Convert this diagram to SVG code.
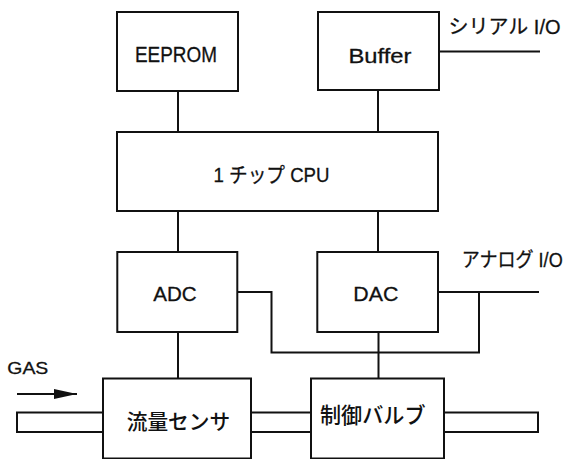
<svg xmlns="http://www.w3.org/2000/svg" width="579" height="459" viewBox="0 0 579 459">
<defs>
<style>
.box{fill:#fff;stroke:#111;stroke-width:2}
.ln{fill:none;stroke:#111;stroke-width:2}
.t{font-family:"Liberation Sans","Noto Sans CJK JP",Arial,sans-serif;fill:#111;stroke:#111;stroke-width:0.3}
.j{font-family:"Noto Sans CJK JP","Liberation Sans",sans-serif;fill:#111;font-weight:500}
</style>
<marker id="ah" viewBox="0 0 10 10" refX="10" refY="5" markerWidth="23" markerHeight="10" markerUnits="userSpaceOnUse" orient="auto" preserveAspectRatio="none">
<path d="M0,0 L10,5 L0,10 Z" fill="#111"/>
</marker>
</defs>
<rect width="579" height="459" fill="#fff"/>
<g id="connectors">
<path class="ln" d="M178,91 V132"/>
<path class="ln" d="M378,90 V132"/>
<path class="ln" d="M178,211 V252"/>
<path class="ln" d="M378,211 V252"/>
<path class="ln" d="M439,51.5 H540"/>
<path class="ln" d="M438,292 H539"/>
<path class="ln" d="M237,292 H271.5 V352.5 H479 V292"/>
<path class="ln" d="M178,332 V378.5"/>
<path class="ln" d="M378.5,332 V378.5"/>
<path class="ln" d="M17,394 H77" marker-end="url(#ah)"/>
</g>
<g id="pipes">
<rect class="box" x="17" y="412.5" width="86" height="19.5"/>
<path class="ln" d="M251,412.5 H311 M251,432 H311"/>
<rect class="box" x="444" y="412.5" width="94" height="19.5"/>
</g>
<g id="eeprom">
<rect class="box" x="117" y="12" width="121" height="79"/>
<text class="t" x="135" y="61.5" font-size="21.5" textLength="82" lengthAdjust="spacingAndGlyphs">EEPROM</text>
</g>
<g id="buffer">
<rect class="box" x="318" y="12" width="121" height="78"/>
<text class="t" x="348.5" y="63.3" font-size="21" textLength="63" lengthAdjust="spacingAndGlyphs">Buffer</text>
</g>
<g id="serial-label">
<text class="t" x="448.5" y="33.5" font-size="20" textLength="112" lengthAdjust="spacingAndGlyphs">シリアル I/O</text>
</g>
<g id="cpu">
<rect class="box" x="117" y="132" width="321" height="79"/>
<text class="t" x="213.5" y="181.7" font-size="21" textLength="116" lengthAdjust="spacingAndGlyphs">1 チップ CPU</text>
</g>
<g id="adc">
<rect class="box" x="117.3" y="252" width="120" height="80"/>
<text class="t" x="153.3" y="301" font-size="20.5" textLength="43.4" lengthAdjust="spacingAndGlyphs">ADC</text>
</g>
<g id="dac">
<rect class="box" x="317.3" y="252" width="120.7" height="80"/>
<text class="t" x="353.3" y="301" font-size="20.5" textLength="45" lengthAdjust="spacingAndGlyphs">DAC</text>
</g>
<g id="analog-label">
<text class="t" x="461.7" y="267" font-size="20" textLength="101" lengthAdjust="spacingAndGlyphs">アナログ I/O</text>
</g>
<g id="gas-label">
<text class="t" x="7.3" y="373.5" font-size="17" textLength="41" lengthAdjust="spacingAndGlyphs">GAS</text>
</g>
<g id="sensor">
<rect class="box" x="103" y="378.5" width="148" height="80"/>
<text class="j" x="126.7" y="429" font-size="21" textLength="103.5" lengthAdjust="spacingAndGlyphs">流量センサ</text>
</g>
<g id="valve">
<rect class="box" x="311" y="378.5" width="133" height="80"/>
<text class="j" x="320" y="422.5" font-size="21.5" textLength="105.5" lengthAdjust="spacingAndGlyphs">制御バルブ</text>
</g>
</svg>
